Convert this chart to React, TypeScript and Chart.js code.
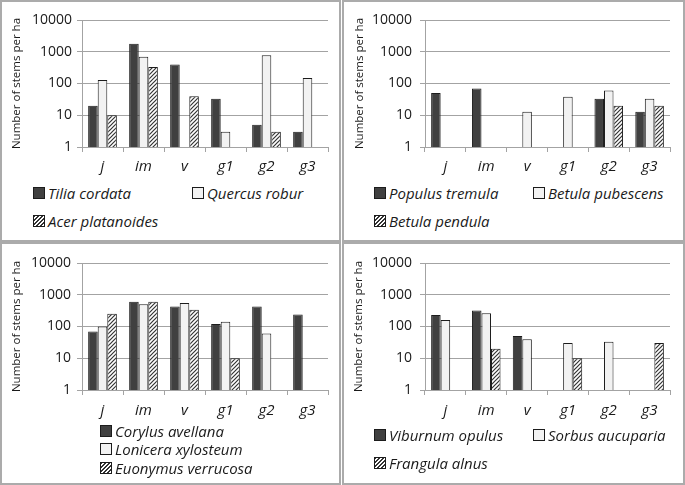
import React, { useEffect, useRef } from 'react';
import { Chart, registerables } from 'chart.js';

Chart.register(...registerables);

// ---------- data ----------
const categories = ['j', 'im', 'v', 'g1', 'g2', 'g3'];
const yTicks = [1, 10, 100, 1000, 10000];
const yTitle = 'Number of stems per ha';

const tiliaCordata = [20, 1800, 400, 33, 5, 3];
const quercusRobur = [130, 700, null, 3, 780, 150];
const acerPlatanoides = [10, 330, 40, null, 3, null];

const populusTremula = [50, 70, null, null, 33, 13];
const betulaPubescens = [null, null, 13, 38, 60, 33];
const betulaPendula = [null, null, null, null, 20, 20];

const corylusAvellana = [70, 600, 430, 120, 430, 240];
const loniceraXylosteum = [100, 500, 550, 140, 60, null];
const euonymusVerrucosa = [250, 600, 340, 10, null, null];

const viburnumOpulus = [230, 320, 50, null, null, null];
const sorbusAucuparia = [160, 260, 40, 30, 33, null];
const frangulaAlnus = [null, 20, null, 10, null, 30];

// ---------- style ----------
const FONT = "'Open Sans', 'DejaVu Sans', sans-serif";
const DARK = '#404040';
const LIGHT = '#f2f2f2';
const EDGE = '#1c1c1c';
const GRID = '#a3a3a3';
const TEXT = '#1a1a1a';
const FRAME = '#ababab';

Chart.defaults.font.family = FONT;

function makeHatch(): CanvasPattern {
  const c = document.createElement('canvas');
  c.width = 4;
  c.height = 4;
  const g = c.getContext('2d')!;
  g.fillStyle = '#ffffff';
  g.fillRect(0, 0, 4, 4);
  g.strokeStyle = '#333333';
  g.lineWidth = 1.2;
  g.beginPath();
  g.moveTo(0, 4);
  g.lineTo(4, 0);
  g.moveTo(-1, 1);
  g.lineTo(1, -1);
  g.moveTo(3, 5);
  g.lineTo(5, 3);
  g.stroke();
  return g.createPattern(c, 'repeat')!;
}

type Series = { name: string; values: (number | null)[] };
type LegendPos = { x: number; y: number };
type PanelCfg = {
  frame: { x: number; y: number; w: number; h: number };
  x: number;
  y: number;
  w: number;
  h: number;
  yWidth: number;
  padTop: number;
  padRight: number;
  xHeight: number;
  xPad: number;
  yPad: number;
  titlePad: number;
  series: Series[];
  legend: LegendPos[];
};

const panels: PanelCfg[] = [
  {
    frame: { x: 0, y: 0, w: 341, h: 242 },
    x: 2, y: 2, w: 334, h: 180,
    yWidth: 80, padTop: 18, padRight: 8, xHeight: 35, xPad: 6, yPad: 5, titlePad: 8,
    series: [
      { name: 'Tilia cordata', values: tiliaCordata },
      { name: 'Quercus robur', values: quercusRobur },
      { name: 'Acer platanoides', values: acerPlatanoides },
    ],
    legend: [{ x: 33, y: 193 }, { x: 192, y: 193 }, { x: 33, y: 221 }],
  },
  {
    frame: { x: 342, y: 0, w: 343, h: 242 },
    x: 344, y: 2, w: 334, h: 180,
    yWidth: 81, padTop: 18, padRight: 8, xHeight: 35, xPad: 6, yPad: 8, titlePad: 9,
    series: [
      { name: 'Populus tremula', values: populusTremula },
      { name: 'Betula pubescens', values: betulaPubescens },
      { name: 'Betula pendula', values: betulaPendula },
    ],
    legend: [{ x: 374, y: 193 }, { x: 533, y: 193 }, { x: 374, y: 221 }],
  },
  {
    frame: { x: 0, y: 242, w: 341, h: 243 },
    x: 2, y: 244, w: 334, h: 180,
    yWidth: 80, padTop: 19, padRight: 8, xHeight: 34, xPad: 7, yPad: 6, titlePad: 8,
    series: [
      { name: 'Corylus avellana', values: corylusAvellana },
      { name: 'Lonicera xylosteum', values: loniceraXylosteum },
      { name: 'Euonymus verrucosa', values: euonymusVerrucosa },
    ],
    legend: [{ x: 100, y: 431 }, { x: 100, y: 449 }, { x: 100, y: 468 }],
  },
  {
    frame: { x: 342, y: 242, w: 343, h: 243 },
    x: 344, y: 244, w: 334, h: 180,
    yWidth: 81, padTop: 19, padRight: 8, xHeight: 34, xPad: 7, yPad: 8, titlePad: 8,
    series: [
      { name: 'Viburnum opulus', values: viburnumOpulus },
      { name: 'Sorbus aucuparia', values: sorbusAucuparia },
      { name: 'Frangula alnus', values: frangulaAlnus },
    ],
    legend: [{ x: 374, y: 435 }, { x: 533, y: 435 }, { x: 374, y: 463 }],
  },
];

function BarPanel({ p }: { p: PanelCfg }) {
  const ref = useRef<HTMLCanvasElement>(null);
  useEffect(() => {
    const hatch = makeHatch();
    const fills: (string | CanvasPattern)[] = [DARK, LIGHT, hatch];
    const chart = new Chart(ref.current!, {
      type: 'bar',
      data: {
        labels: categories,
        datasets: p.series.map((s, i) => ({
          label: s.name,
          data: s.values as any,
          backgroundColor: fills[i] as any,
          borderColor: EDGE,
          borderWidth: 1,
          categoryPercentage: 0.7,
          barPercentage: 1,
        })),
      },
      options: {
        responsive: false,
        animation: false,
        devicePixelRatio: 1,
        layout: { padding: { top: p.padTop, right: p.padRight, left: 0, bottom: 0 } },
        plugins: { legend: { display: false }, tooltip: { enabled: false } },
        scales: {
          x: {
            grid: {
              offset: true,
              drawOnChartArea: false,
              drawTicks: true,
              tickLength: 5,
              color: GRID,
              lineWidth: 1,
            },
            border: { color: GRID, width: 1 },
            ticks: {
              color: TEXT,
              font: { family: FONT, size: 15, style: 'italic' },
              padding: p.xPad,
              maxRotation: 0,
              autoSkip: false,
            },
            afterFit: (s: any) => {
              s.height = p.xHeight;
            },
          },
          y: {
            type: 'logarithmic',
            min: 1,
            max: 10000,
            afterBuildTicks: (s: any) => {
              s.ticks = yTicks.map((v) => ({ value: v }));
            },
            ticks: {
              color: TEXT,
              font: { family: FONT, size: 14 },
              padding: p.yPad,
              callback: (v: any) => String(v),
            },
            grid: { drawTicks: true, tickLength: 5, color: GRID, lineWidth: 1 },
            border: { color: GRID, width: 1 },
            title: {
              display: true,
              text: yTitle,
              color: TEXT,
              font: { family: FONT, size: 11.5 },
              padding: { top: p.titlePad, bottom: 0 },
            },
            afterFit: (s: any) => {
              s.width = p.yWidth;
            },
          },
        } as any,
      },
    });
    return () => chart.destroy();
  }, []);

  const boxStyles: React.CSSProperties[] = [
    { background: DARK },
    { background: LIGHT },
    {
      background:
        'repeating-linear-gradient(135deg, #333 0px, #333 1.2px, #fff 1.2px, #fff 2.8px)',
    },
  ];

  return (
    <>
      <div
        style={{
          position: 'absolute',
          left: p.frame.x,
          top: p.frame.y,
          width: p.frame.w,
          height: p.frame.h,
          border: `2px solid ${FRAME}`,
          boxSizing: 'border-box',
        }}
      />
      <canvas
        ref={ref}
        width={p.w}
        height={p.h}
        style={{ position: 'absolute', left: p.x, top: p.y, width: p.w, height: p.h }}
      />
      {p.series.map((s, i) => (
        <React.Fragment key={s.name}>
          <div
            style={{
              position: 'absolute',
              left: p.legend[i].x,
              top: p.legend[i].y - 6,
              width: 12,
              height: 12,
              boxSizing: 'border-box',
              border: `1px solid ${EDGE}`,
              ...boxStyles[i],
            }}
          />
          <div
            style={{
              position: 'absolute',
              left: p.legend[i].x + 15,
              top: p.legend[i].y - 11,
              height: 22,
              lineHeight: '22px',
              fontFamily: FONT,
              fontStyle: 'italic',
              fontSize: 15,
              color: TEXT,
              whiteSpace: 'nowrap',
            }}
          >
            {s.name}
          </div>
        </React.Fragment>
      ))}
    </>
  );
}

export default function App() {
  return (
    <div
      style={{
        position: 'absolute',
        left: 0,
        top: 0,
        width: 685,
        height: 485,
        background: '#ffffff',
        overflow: 'hidden',
      }}
    >
      {panels.map((p, i) => (
        <BarPanel key={i} p={p} />
      ))}
    </div>
  );
}
